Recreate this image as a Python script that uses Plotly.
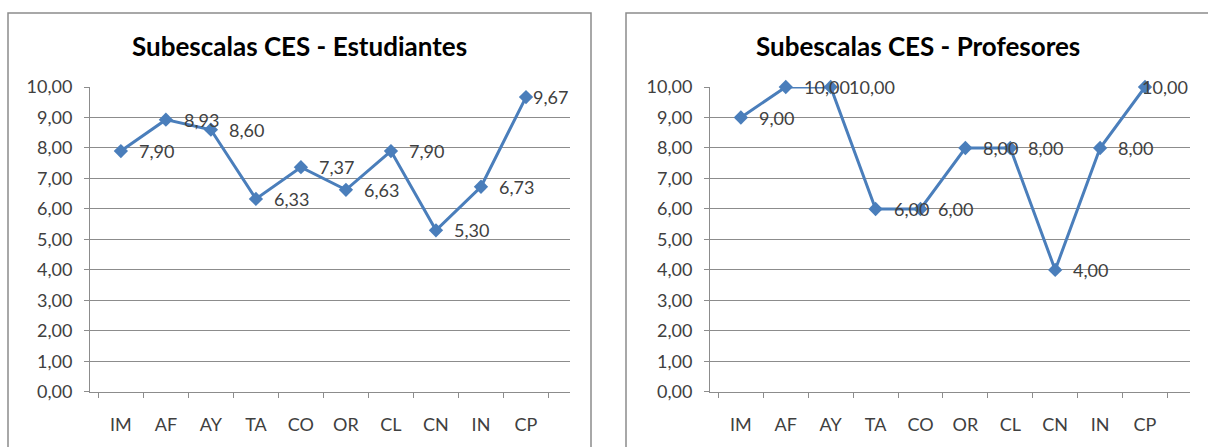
import plotly.graph_objects as go

categories = ["IM", "AF", "AY", "TA", "CO", "OR", "CL", "CN", "IN", "CP"]
estudiantes = [7.90, 8.93, 8.60, 6.33, 7.37, 6.63, 7.90, 5.30, 6.73, 9.67]
profesores = [9.00, 10.00, 10.00, 6.00, 6.00, 8.00, 8.00, 4.00, 8.00, 10.00]
titles = ["Subescalas CES - Estudiantes", "Subescalas CES - Profesores"]
y_ticks = [0, 1, 2, 3, 4, 5, 6, 7, 8, 9, 10]

W, H = 1208, 447
FONT = "Lato, Open Sans, sans-serif"
LINE_COLOR = "#4A7EBB"
TEXT_COLOR = "#404040"
GRID = "#8C8C8C"

def px_x(v):
    return v / W

def px_y(v):
    return 1 - v / H

def fmt(v):
    return f"{v:.2f}".replace(".", ",")

fig = go.Figure()

panels = [
    dict(data=estudiantes, x0=90, x1=570, xa="x", ya="y", box=(8, 591), tcx=299, last_shift=5),
    dict(data=profesores, x0=710, x1=1190, xa="x2", ya="y2", box=(626, 1215), tcx=918, last_shift=-5),
]

for i, p in enumerate(panels):
    fig.add_trace(go.Scatter(
        x=categories, y=p["data"], xaxis=p["xa"], yaxis=p["ya"],
        mode="lines+markers",
        line=dict(color=LINE_COLOR, width=3),
        marker=dict(symbol="diamond", size=11, color=LINE_COLOR),
        cliponaxis=False, showlegend=False, hoverinfo="x+y",
    ))
    for j, (c, v) in enumerate(zip(categories, p["data"])):
        shift = p["last_shift"] if j == len(categories) - 1 else 16
        fig.add_annotation(
            x=c, y=v, xref=p["xa"], yref=p["ya"], text=fmt(v),
            xanchor="left", yanchor="middle", xshift=shift, showarrow=False,
            font=dict(family=FONT, size=18, color=TEXT_COLOR),
        )
    sfx = "" if i == 0 else str(i + 1)
    fig.update_layout(**{
        "xaxis" + sfx: dict(
            domain=[px_x(p["x0"]), px_x(p["x1"])], anchor="y" + sfx,
            type="category", tickson="boundaries", ticks="outside", ticklen=5,
            tickcolor=GRID, showline=True, linecolor=GRID, linewidth=1,
            showgrid=False, tickfont=dict(family=FONT, size=18, color=TEXT_COLOR),
            ticklabelstandoff=16, fixedrange=True,
        ),
        "yaxis" + sfx: dict(
            domain=[px_y(399.6), px_y(78.9)], anchor="x" + sfx,
            range=[0, 10], tickvals=y_ticks, tickformat=".2f",
            ticks="outside", ticklen=5, tickcolor=GRID,
            showline=True, linecolor=GRID, linewidth=1,
            showgrid=True, gridcolor=GRID, gridwidth=1, zeroline=False,
            tickfont=dict(family=FONT, size=18, color=TEXT_COLOR),
            ticklabelstandoff=8, fixedrange=True,
        ),
    })
    fig.add_shape(type="rect", xref="paper", yref="paper",
                  x0=px_x(p["box"][0]), x1=px_x(p["box"][1]),
                  y0=px_y(470), y1=px_y(1),
                  line=dict(color="#8C8C8C", width=1.5), layer="below")
    fig.add_annotation(text="<b>" + titles[i] + "</b>", xref="paper", yref="paper",
                       x=px_x(p["tcx"]), y=px_y(36), xanchor="center", yanchor="middle",
                       showarrow=False, font=dict(family=FONT, size=26, color="#000000"))

fig.update_layout(
    width=W, height=H, separators=",.",
    margin=dict(l=0, r=0, t=0, b=0),
    paper_bgcolor="white", plot_bgcolor="white",
)

fig.write_html(
    "out.html",
    config={"displayModeBar": False},
    post_script=(
        "var gd=document.getElementById('{plot_id}');"
        "document.documentElement.style.margin='0';"
        "document.body.style.margin='0';"
        "document.body.style.overflow='hidden';"
        "gd.style.position='absolute';gd.style.top='0px';gd.style.left='0px';"
    ),
)
